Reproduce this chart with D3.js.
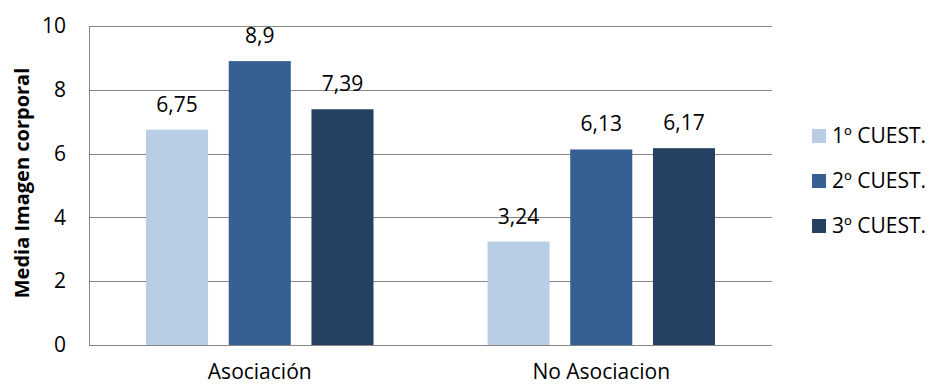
<!DOCTYPE html>
<html>
<head>
<meta charset="utf-8">
<script src="https://cdn.jsdelivr.net/npm/d3@7"></script>
<style>
  html, body { margin: 0; padding: 0; background: #fff; }
  svg { display: block; font-family: "Open Sans", Lato, sans-serif; }
</style>
</head>
<body>
<svg id="chart" width="930" height="385"></svg>
<script>
// Chart data
const categories = ["Asociación", "No Asociacion"];
const seriesNames = ["1º CUEST.", "2º CUEST.", "3º CUEST."];
const seriesColors = ["#B9CDE5", "#376092", "#254061"];
const values1 = [6.75, 3.24];
const values2 = [8.9, 6.13];
const values3 = [7.39, 6.17];
const yTicks = [0, 2, 4, 6, 8, 10];
const yTitle = "Media Imagen corporal";

const seriesValues = [values1, values2, values3];
const FONT = "'Open Sans', Lato, sans-serif";
const FS = 21;

const svg = d3.select("#chart");
const margin = { left: 89, right: 158, top: 26, bottom: 40 };
const W = 930, H = 385;
const plotW = W - margin.left - margin.right;
const plotH = H - margin.top - margin.bottom;

const g = svg.append("g").attr("transform", `translate(${margin.left},${margin.top})`);

const x0 = d3.scaleBand().domain(categories).range([0, plotW]).paddingInner(0).paddingOuter(0);
const x1 = d3.scaleBand().domain(seriesNames).range([57, x0.bandwidth() - 57]).paddingInner(0.25).paddingOuter(0);
const y = d3.scaleLinear().domain([0, 10]).range([plotH, 0]);

// Horizontal gridlines
g.append("g")
  .selectAll("line")
  .data(yTicks)
  .join("line")
  .attr("x1", 0).attr("x2", plotW)
  .attr("y1", d => Math.round(y(d)) + 0.5).attr("y2", d => Math.round(y(d)) + 0.5)
  .attr("stroke", "#868686").attr("stroke-width", 1);

// Y axis
const yAxis = g.append("g")
  .call(d3.axisLeft(y).tickValues(yTicks).tickSize(0).tickPadding(23).tickFormat(d3.format("d")));
yAxis.select(".domain").attr("stroke", "#868686").attr("d", `M0.5,0V${plotH}`);
yAxis.selectAll("text").attr("font-size", FS).attr("fill", "#000").attr("font-family", FONT);

// X axis
const xAxis = g.append("g")
  .attr("transform", `translate(0,${plotH})`)
  .call(d3.axisBottom(x0).tickSize(0).tickPadding(19));
xAxis.select(".domain").attr("stroke", "#868686").attr("d", `M0,0.5H${plotW}`);
xAxis.selectAll("text").attr("font-size", FS).attr("fill", "#000").attr("font-family", FONT);

// Bars
const groups = g.append("g")
  .selectAll("g")
  .data(categories)
  .join("g")
  .attr("transform", d => `translate(${x0(d)},0)`);

groups.selectAll("rect")
  .data((c, ci) => seriesNames.map((s, si) => ({ s, si, v: seriesValues[si][ci] })))
  .join("rect")
  .attr("x", d => x1(d.s))
  .attr("width", x1.bandwidth())
  .attr("y", d => y(d.v))
  .attr("height", d => plotH - y(d.v))
  .attr("fill", d => seriesColors[d.si]);

// Value labels
groups.selectAll("text.val")
  .data((c, ci) => seriesNames.map((s, si) => ({ s, si, v: seriesValues[si][ci] })))
  .join("text")
  .attr("class", "val")
  .attr("x", d => x1(d.s) + x1.bandwidth() / 2)
  .attr("y", d => y(d.v) - 18)
  .attr("text-anchor", "middle")
  .attr("font-size", FS)
  .attr("fill", "#000")
  .text(d => String(d.v).replace(".", ","));

// Y axis title
svg.append("text")
  .attr("transform", `translate(29,183) rotate(-90)`)
  .attr("text-anchor", "middle")
  .attr("font-size", 20)
  .attr("font-weight", "bold")
  .attr("fill", "#000")
  .text(yTitle);

// Legend
const legend = svg.append("g").attr("transform", "translate(812,129)");
const items = legend.selectAll("g")
  .data(seriesNames)
  .join("g")
  .attr("transform", (d, i) => `translate(0,${i * 45})`);
items.append("rect").attr("width", 14).attr("height", 14).attr("fill", (d, i) => seriesColors[i]);
items.append("text")
  .attr("x", 20).attr("y", 14)
  .attr("font-size", FS)
  .attr("fill", "#000")
  .text(d => d);
</script>
</body>
</html>
